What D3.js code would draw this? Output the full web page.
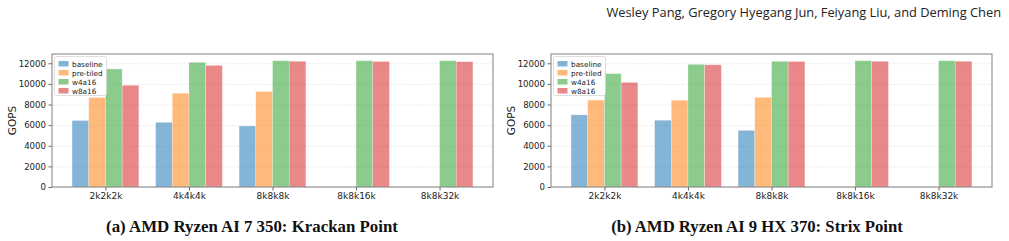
<!DOCTYPE html>
<html><head><meta charset="utf-8">
<script src="https://cdn.jsdelivr.net/npm/d3@7"></script>
<style>body{margin:0;background:#fff;} svg{display:block;}</style>
</head><body>
<svg id="c" width="1009" height="241"></svg>
<script>
const categories = ["2k2k2k","4k4k4k","8k8k8k","8k8k16k","8k8k32k"];
const seriesNames = ["baseline","pre-tiled","w4a16","w8a16"];
const colors = ["#1f77b4","#ff7f0e","#2ca02c","#d62728"];
const yTicks = [0,2000,4000,6000,8000,10000,12000];
// Panel (a) Krackan Point
const krackanBaseline = [6450, 6280, 5920, null, null];
const krackanPreTiled = [8680, 9100, 9270, null, null];
const krackanW4a16    = [11450, 12100, 12250, 12250, 12250];
const krackanW8a16    = [9870, 11800, 12200, 12180, 12150];
// Panel (b) Strix Point
const strixBaseline = [7000, 6480, 5500, null, null];
const strixPreTiled = [8430, 8420, 8700, null, null];
const strixW4a16    = [11000, 11900, 12200, 12250, 12250];
const strixW8a16    = [10150, 11850, 12180, 12200, 12200];
const captions = ["(a) AMD Ryzen AI 7 350: Krackan Point","(b) AMD Ryzen AI 9 HX 370: Strix Point"];
const header = "Wesley Pang, Gregory Hyegang Jun, Feiyang Liu, and Deming Chen";

const svg = d3.select("#c");
const tickFont = "DejaVu Sans, sans-serif";

// header
const ht = svg.append("text").attr("x",1001).attr("y",17).attr("text-anchor","end")
  .attr("font-family","Open Sans, Lato, sans-serif").attr("font-size",11).attr("fill","#222").text(header);
{ const w = ht.node().getComputedTextLength(); ht.attr("font-size", 11*395/w); }

const panels = [
  {x0:52, x1:493, ylabX:12, capX:252, data:[krackanBaseline,krackanPreTiled,krackanW4a16,krackanW8a16]},
  {x0:551, x1:992, ylabX:511, capX:757, data:[strixBaseline,strixPreTiled,strixW4a16,strixW8a16]}
];
const yTop = 54, yBot = 187;

panels.forEach((p, pi) => {
  const g = svg.append("g");
  const x = d3.scaleLinear().domain([-0.64, 4.64]).range([p.x0, p.x1]);
  const y = d3.scaleLinear().domain([0, 12900]).range([yBot, yTop]);
  // grid
  g.append("g").selectAll("line").data(yTicks).join("line")
    .attr("x1",p.x0).attr("x2",p.x1).attr("y1",d=>y(d)+0.5).attr("y2",d=>y(d)+0.5)
    .attr("stroke","#b0b0b0").attr("stroke-opacity",0.3).attr("stroke-width",0.8)
    .attr("stroke-dasharray","3,1.5");
  // bars
  const bw = 0.2;
  p.data.forEach((vals, si) => {
    g.append("g").selectAll("rect").data(vals.map((v,i)=>({v,i})).filter(d=>d.v!=null)).join("rect")
      .attr("x", d => x(d.i + (si-1.5)*bw - bw/2))
      .attr("width", d => x(bw) - x(0))
      .attr("y", d => y(d.v))
      .attr("height", d => y(0) - y(d.v))
      .attr("fill", colors[si]).attr("fill-opacity",0.55)
      .attr("stroke","#fff").attr("stroke-opacity",0.5).attr("stroke-width",0.6);
  });
  // axes
  const yAxis = d3.axisLeft(y).tickValues(yTicks).tickSize(3.5).tickPadding(2.5).tickFormat(d3.format("d"));
  const ya = g.append("g").attr("transform",`translate(${p.x0},0)`).call(yAxis);
  ya.select(".domain").remove();
  ya.selectAll("text").attr("font-family",tickFont).attr("font-size",8.6).attr("fill","#222");
  ya.selectAll("line").attr("stroke","#444").attr("stroke-width",0.8);
  const xAxis = d3.axisBottom(x).tickValues(d3.range(categories.length)).tickFormat(i=>categories[i]).tickSize(3.5).tickPadding(2);
  const xa = g.append("g").attr("transform",`translate(0,${yBot})`).call(xAxis);
  xa.select(".domain").remove();
  xa.selectAll("text").attr("font-family",tickFont).attr("font-size",9).attr("fill","#222");
  xa.selectAll("line").attr("stroke","#444").attr("stroke-width",0.8);
  // spines
  g.append("rect").attr("x",p.x0).attr("y",yTop).attr("width",p.x1-p.x0).attr("height",yBot-yTop)
    .attr("fill","none").attr("stroke","#808080").attr("stroke-width",1);
  // y label
  g.append("text").attr("transform",`translate(${p.ylabX},${(yTop+yBot)/2}) rotate(-90)`)
    .attr("text-anchor","middle").attr("dominant-baseline","central")
    .attr("font-family",tickFont).attr("font-size",10.5).attr("fill","#222").text("GOPS");
  // legend
  const lg = g.append("g").attr("transform",`translate(${p.x0+2.5},${yTop+2.5})`);
  lg.append("rect").attr("width",52).attr("height",39).attr("rx",2)
    .attr("fill","#fff").attr("fill-opacity",0.8).attr("stroke","#d6d6d6").attr("stroke-width",0.8);
  seriesNames.forEach((s, si) => {
    const yy = 7.5 + si*9;
    lg.append("rect").attr("x",4).attr("y",yy-3).attr("width",10).attr("height",5.5)
      .attr("fill",colors[si]).attr("fill-opacity",0.55);
    lg.append("text").attr("x",17.5).attr("y",yy).attr("dominant-baseline","central")
      .attr("font-family",tickFont).attr("font-size",7.3).attr("fill","#222").text(s);
  });
  // caption
  const ct = svg.append("text").attr("x",p.capX).attr("y",232).attr("text-anchor","middle")
    .attr("font-family","Liberation Serif, serif").attr("font-weight","bold").attr("font-size",14)
    .attr("fill","#111").text(captions[pi]);
  const w = ct.node().getComputedTextLength(); ct.attr("font-size", 14*292/w);
});
</script>
</body></html>
